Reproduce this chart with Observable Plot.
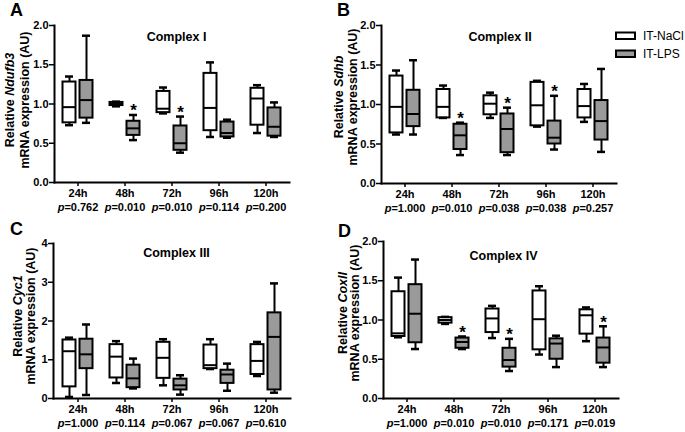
<!DOCTYPE html>
<html><head><meta charset="utf-8">
<script src="https://cdn.jsdelivr.net/npm/d3@7"></script>
<script src="https://cdn.jsdelivr.net/npm/@observablehq/plot@0.6"></script>
<style>
body{margin:0;background:#fff;}
#root{position:relative;width:685px;height:432px;overflow:hidden;background:#fff;}
#root svg{position:absolute;overflow:visible;background:transparent;max-width:none;}
</style></head><body><div id="root"></div>
<script>
const times = ["24h", "48h", "72h", "96h", "120h"];
const groups = ["IT-NaCl", "IT-LPS"];

// five-number summaries per time point: [min, q1, median, q3, max]
const ndufb3NaCl = [[0.73,0.76,0.96,1.28,1.35],[0.97,0.98,1.00,1.02,1.03],[0.88,0.89,0.94,1.16,1.21],[0.58,0.66,0.95,1.39,1.53],[0.63,0.73,1.07,1.20,1.24]];
const ndufb3LPS  = [[0.76,0.82,1.05,1.30,1.87],[0.54,0.60,0.69,0.78,0.86],[0.38,0.41,0.50,0.72,0.84],[0.57,0.58,0.63,0.77,0.80],[0.58,0.59,0.71,0.95,1.02]];
const sdhbNaCl   = [[0.62,0.64,0.97,1.36,1.43],[0.83,0.83,0.97,1.19,1.24],[0.83,0.87,1.01,1.11,1.15],[0.72,0.73,0.99,1.28,1.30],[0.78,0.83,0.98,1.19,1.26]];
const sdhbLPS    = [[0.62,0.72,0.88,1.18,1.56],[0.36,0.43,0.61,0.75,0.77],[0.36,0.39,0.69,0.88,0.96],[0.43,0.50,0.58,0.79,1.11],[0.40,0.55,0.79,1.05,1.45]];
const cyc1NaCl   = [[0.04,0.30,1.22,1.51,1.57],[0.40,0.53,1.08,1.39,1.48],[0.34,0.52,1.05,1.45,1.53],[0.76,0.77,0.86,1.38,1.53],[0.58,0.62,0.97,1.39,1.46]];
const cyc1LPS    = [[0.09,0.77,1.14,1.53,1.91],[0.26,0.28,0.52,0.86,1.03],[0.10,0.22,0.34,0.50,0.60],[0.20,0.39,0.62,0.73,0.90],[0.15,0.22,1.59,2.21,2.97]];
const coxIINaCl  = [[0.78,0.79,0.83,1.36,1.54],[0.95,0.96,1.00,1.03,1.04],[0.77,0.84,1.02,1.14,1.18],[0.56,0.62,1.01,1.37,1.43],[0.73,0.82,1.06,1.13,1.16]];
const coxIILPS   = [[0.63,0.71,1.08,1.45,1.77],[0.63,0.64,0.72,0.77,0.79],[0.35,0.40,0.49,0.64,0.76],[0.40,0.50,0.70,0.76,0.80],[0.40,0.45,0.65,0.77,0.92]];

const pNdufb3 = ["0.762", "0.010", "0.010", "0.114", "0.200"];
const pSdhb   = ["1.000", "0.010", "0.038", "0.038", "0.257"];
const pCyc1   = ["1.000", "0.114", "0.067", "0.067", "0.610"];
const pCoxII  = ["1.000", "0.010", "0.010", "0.171", "0.019"];

const starsNdufb3 = ["48h", "72h"];
const starsSdhb   = ["48h", "72h", "96h"];
const starsCyc1   = [];
const starsCoxII  = ["48h", "72h", "120h"];

const ticks2 = [0, 0.5, 1, 1.5, 2];
const ticks4 = [0, 1, 2, 3, 4];

const FONT = '"Liberation Sans", Arial, sans-serif';
const GREY = "#9a9a9a";
const root = document.getElementById("root");

function rows(summ) {
  return times.map((t, i) => ({time: t, min: summ[i][0], q1: summ[i][1], med: summ[i][2], q3: summ[i][3], max: summ[i][4]}));
}

function boxMarks(data, off, fill) {
  return [
    Plot.ruleX(data, {x: "time", y1: "min", y2: "max", dx: off, stroke: "black", strokeWidth: 2}),
    Plot.barY(data, {x: "time", y1: "q1", y2: "q3", dx: off, fill, stroke: "black", strokeWidth: 2}),
    Plot.tickY(data, {x: "time", y: "med", dx: off, stroke: "black", strokeWidth: 2}),
    Plot.tickY(data, {x: "time", y: "min", dx: off, inset: 2.5, stroke: "black", strokeWidth: 2.5}),
    Plot.tickY(data, {x: "time", y: "max", dx: off, inset: 2.5, stroke: "black", strokeWidth: 2.5})
  ];
}

function panel(o) {
  const nacl = rows(o.nacl), lps = rows(o.lps);
  const starRows = lps.filter(d => o.stars.includes(d.time));
  const pRows = times.map((t, i) => ({time: t, p: o.pvals[i]}));
  const svg = Plot.plot({
    width: o.width, height: o.height,
    marginLeft: o.mL, marginRight: o.mR, marginTop: o.mT, marginBottom: o.mB,
    style: {fontFamily: FONT, fontWeight: "bold", fontSize: "11px", color: "black", background: "transparent", overflow: "visible"},
    x: {domain: times, paddingInner: 0.7234, paddingOuter: 0.3617, axis: null},
    y: {domain: [0, o.yMax], axis: null},
    marks: [
      ...boxMarks(nacl, -8.5, "white"),
      ...boxMarks(lps, 8.5, GREY),
      Plot.text(starRows, {x: "time", y: "max", text: () => "*", dx: 8.5, dy: -4, fontSize: 17, fontWeight: "bold"}),
      Plot.axisY({ticks: o.yTicks, tickFormat: o.yFmt, tickSize: 5, tickPadding: 1, strokeWidth: 1.5, fontSize: 11, fontWeight: "bold", label: null}),
      Plot.axisX({tickSize: 4, tickPadding: 3, strokeWidth: 1.5, fontSize: 11, fontWeight: "bold", label: null}),
      Plot.text(pRows, {x: "time", text: d => "p=" + d.p, frameAnchor: "bottom", dy: 21, lineAnchor: "top", fontSize: 11, fontWeight: "bold"}),
      Plot.text([o.title], {text: d => d, frameAnchor: "top", dx: o.titleDx, dy: o.titleDy, fontSize: 12.5, fontWeight: "bold"}),
      Plot.frame({anchor: "left", stroke: "black", strokeWidth: 2}),
      Plot.frame({anchor: "bottom", stroke: "black", strokeWidth: 2})
    ]
  });
  svg.style.left = o.left + "px";
  svg.style.top = o.top + "px";
  const s = d3.select(svg);
  // italic p in p-values
  s.selectAll("text").filter(function () { return this.textContent.startsWith("p="); }).each(function () {
    const str = this.textContent;
    const el = d3.select(this);
    el.text(null);
    el.append("tspan").attr("font-style", "italic").text("p");
    el.append("tspan").text(str.slice(1));
  });
  // y-axis label (two lines, gene italic)
  const l1 = s.append("text").attr("transform", `translate(${o.labX1},${o.labY}) rotate(-90)`)
    .attr("text-anchor", "middle").attr("dominant-baseline", "central")
    .attr("font-size", 12.5).attr("font-weight", "bold").attr("font-family", FONT);
  l1.append("tspan").text("Relative ");
  l1.append("tspan").attr("font-style", "italic").text(o.gene);
  s.append("text").attr("transform", `translate(${o.labX2},${o.labY}) rotate(-90)`)
    .attr("text-anchor", "middle").attr("dominant-baseline", "central")
    .attr("font-size", 12.5).attr("font-weight", "bold").attr("font-family", FONT)
    .text("mRNA expression (AU)");
  // panel letter
  s.append("text").attr("x", o.letX).attr("y", o.letY).attr("text-anchor", "start")
    .attr("font-size", 18).attr("font-weight", "bold").attr("font-family", FONT).text(o.letter);
  root.appendChild(svg);
  return s;
}

const f1 = d3.format(".1f");
const f0 = d3.format("d");

panel({left: 0, top: 0, width: 325, height: 215, mL: 54, mR: 36, mT: 25, mB: 33, yMax: 2, yTicks: ticks2, yFmt: f1,
  nacl: ndufb3NaCl, lps: ndufb3LPS, pvals: pNdufb3, stars: starsNdufb3, title: "Complex I", titleDx: 4.5, titleDy: 7,
  gene: "Ndufb3", labX1: 9.5, labX2: 24.5, labY: 100, letter: "A", letX: 10, letY: 16});

const sB = panel({left: 325, top: 0, width: 360, height: 215, mL: 56, mR: 69, mT: 25, mB: 32, yMax: 2, yTicks: ticks2, yFmt: f1,
  nacl: sdhbNaCl, lps: sdhbLPS, pvals: pSdhb, stars: starsSdhb, title: "Complex II", titleDx: 1, titleDy: 7,
  gene: "Sdhb", labX1: 14, labX2: 27.5, labY: 97, letter: "B", letX: 12, letY: 16});

panel({left: 0, top: 215, width: 325, height: 217, mL: 53, mR: 35, mT: 28, mB: 34, yMax: 4, yTicks: ticks4, yFmt: f0,
  nacl: cyc1NaCl, lps: cyc1LPS, pvals: pCyc1, stars: starsCyc1, title: "Complex III", titleDx: 4.5, titleDy: 5,
  gene: "Cyc1", labX1: 17.5, labX2: 31, labY: 101, letter: "C", letX: 10, letY: 20});

panel({left: 325, top: 215, width: 360, height: 217, mL: 58, mR: 67, mT: 26, mB: 34, yMax: 2, yTicks: ticks2, yFmt: f1,
  nacl: coxIINaCl, lps: coxIILPS, pvals: pCoxII, stars: starsCoxII, title: "Complex IV", titleDx: 2.5, titleDy: 10,
  gene: "CoxII", labX1: 18, labX2: 30, labY: 98, letter: "D", letX: 13, letY: 22});

// legend (in panel B's svg)
const legendFills = ["white", GREY];
groups.forEach((g, i) => {
  sB.append("rect").attr("x", 291).attr("y", 32.5 + i * 18).attr("width", 19).attr("height", 6.5)
    .attr("fill", legendFills[i]).attr("stroke", "black").attr("stroke-width", 2);
  sB.append("text").attr("x", 318).attr("y", 36 + i * 18).attr("dominant-baseline", "central")
    .attr("text-anchor", "start")
    .attr("font-size", 12).attr("font-weight", "normal").attr("font-family", FONT).attr("fill", "black").text(g);
});
</script>
</body></html>
